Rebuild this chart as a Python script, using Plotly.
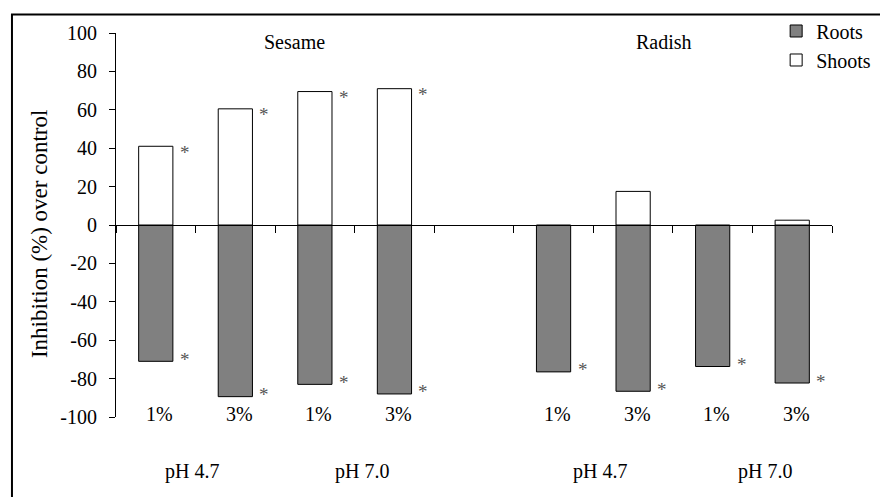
import plotly.graph_objects as go

# ---- data ----
crops = ["Sesame", "Sesame", "Sesame", "Sesame", "Radish", "Radish", "Radish", "Radish"]
ph_levels = ["pH 4.7", "pH 4.7", "pH 7.0", "pH 7.0", "pH 4.7", "pH 4.7", "pH 7.0", "pH 7.0"]
concentrations = ["1%", "3%", "1%", "3%", "1%", "3%", "1%", "3%"]
roots = [-71, -89.4, -83, -88, -76.5, -86.6, -73.7, -82.3]
shoots = [41, 60.5, 69.5, 71, None, 17.5, None, 2.5]
roots_significant = [True, True, True, True, True, True, True, True]
shoots_significant = [True, True, True, True, False, False, False, False]
y_ticks = [-100, -80, -60, -40, -20, 0, 20, 40, 60, 80, 100]
y_tick_text = ["-100", "-80", "-60", "-40", "-20", "0", "20", "40", "60", "80", "100"]

# category keys, with an empty spacer slot between the two crops
cats = [f"{c} {p} {k}" for c, p, k in zip(crops, ph_levels, concentrations)]
spacer = " "
cat_order = cats[:4] + [spacer] + cats[4:]

FONT = "Liberation Serif"

fig = go.Figure()
fig.add_trace(go.Bar(
    x=cats, y=roots, name="Roots", width=0.43, legendgroup="roots",
    marker=dict(color="#808080", line=dict(color="black", width=1)),
))
fig.add_trace(go.Bar(
    x=cats, y=shoots, name="Shoots", width=0.43, legendgroup="shoots",
    marker=dict(color="white", line=dict(color="black", width=1)),
))

ann = []
# significance stars
for c, v, s in zip(cats, roots, roots_significant):
    if s:
        ann.append(dict(x=c, y=v, xref="x", yref="y", text="*", showarrow=False,
                        xshift=29, yshift=2, font=dict(family=FONT, size=19, color="#555555")))
for c, v, s in zip(cats, shoots, shoots_significant):
    if s:
        ann.append(dict(x=c, y=v, xref="x", yref="y", text="*", showarrow=False,
                        xshift=29, yshift=-6, font=dict(family=FONT, size=19, color="#555555")))
# concentration labels at the bottom
for c, k in zip(cats, concentrations):
    ann.append(dict(x=c, y=-100, xref="x", yref="y", text=k, showarrow=False,
                    xshift=4, yshift=3, font=dict(family=FONT, size=20, color="black")))
# pH group labels
ph_groups = ["pH 4.7", "pH 7.0", "pH 4.7", "pH 7.0"]
ph_x = [0.1058, 0.3433, 0.6763, 0.9068]
for t, xp in zip(ph_groups, ph_x):
    ann.append(dict(x=xp, y=-0.1424, xref="paper", yref="paper", text=t, showarrow=False,
                    xanchor="center", yanchor="middle",
                    font=dict(family=FONT, size=20, color="black")))
# crop titles
for t, xp in zip(["Sesame", "Radish"], [0.2494, 0.7657]):
    ann.append(dict(x=xp, y=0.976, xref="paper", yref="paper", text=t, showarrow=False,
                    xanchor="center", yanchor="middle",
                    font=dict(family=FONT, size=20, color="black")))
# y-axis title
ann.append(dict(x=-0.106, y=0.4766, xref="paper", yref="paper", text="Inhibition (%) over control",
                textangle=-90, showarrow=False, xanchor="center", yanchor="middle",
                font=dict(family=FONT, size=23, color="black")))

fig.update_layout(
    width=888, height=497,
    margin=dict(l=108, r=64, t=25, b=88, autoexpand=False),
    paper_bgcolor="white", plot_bgcolor="white",
    barmode="relative",
    font=dict(family=FONT, size=20, color="black"),
    showlegend=True,
    legend=dict(x=0.922, y=1.056, xanchor="left", yanchor="top", bgcolor="rgba(0,0,0,0)",
                font=dict(family=FONT, size=20), itemwidth=30, traceorder="normal",
                tracegroupgap=7),
    annotations=ann,
    shapes=[dict(type="rect", xref="paper", yref="paper", x0=-0.1453, x1=1.3, y0=-0.4, y1=1.0482,
                 line=dict(color="black", width=2), fillcolor="rgba(0,0,0,0)", layer="below")],
)
fig.update_xaxes(
    type="category", categoryorder="array", categoryarray=cat_order, range=[-0.5, 8.5],
    showline=True, linecolor="black", linewidth=1, ticks="outside", tickson="boundaries",
    ticklen=7, tickcolor="black", showticklabels=False, showgrid=False, zeroline=False,
    anchor="free", position=0.5,
)
fig.update_yaxes(
    range=[-100, 100], tickvals=y_ticks, ticktext=y_tick_text, showline=True, linecolor="black",
    linewidth=1, ticks="outside", ticklen=6, tickcolor="black", showgrid=False, zeroline=False,
    tickfont=dict(family=FONT, size=20), ticklabelstandoff=8,
)

fig.write_html("out.html")
